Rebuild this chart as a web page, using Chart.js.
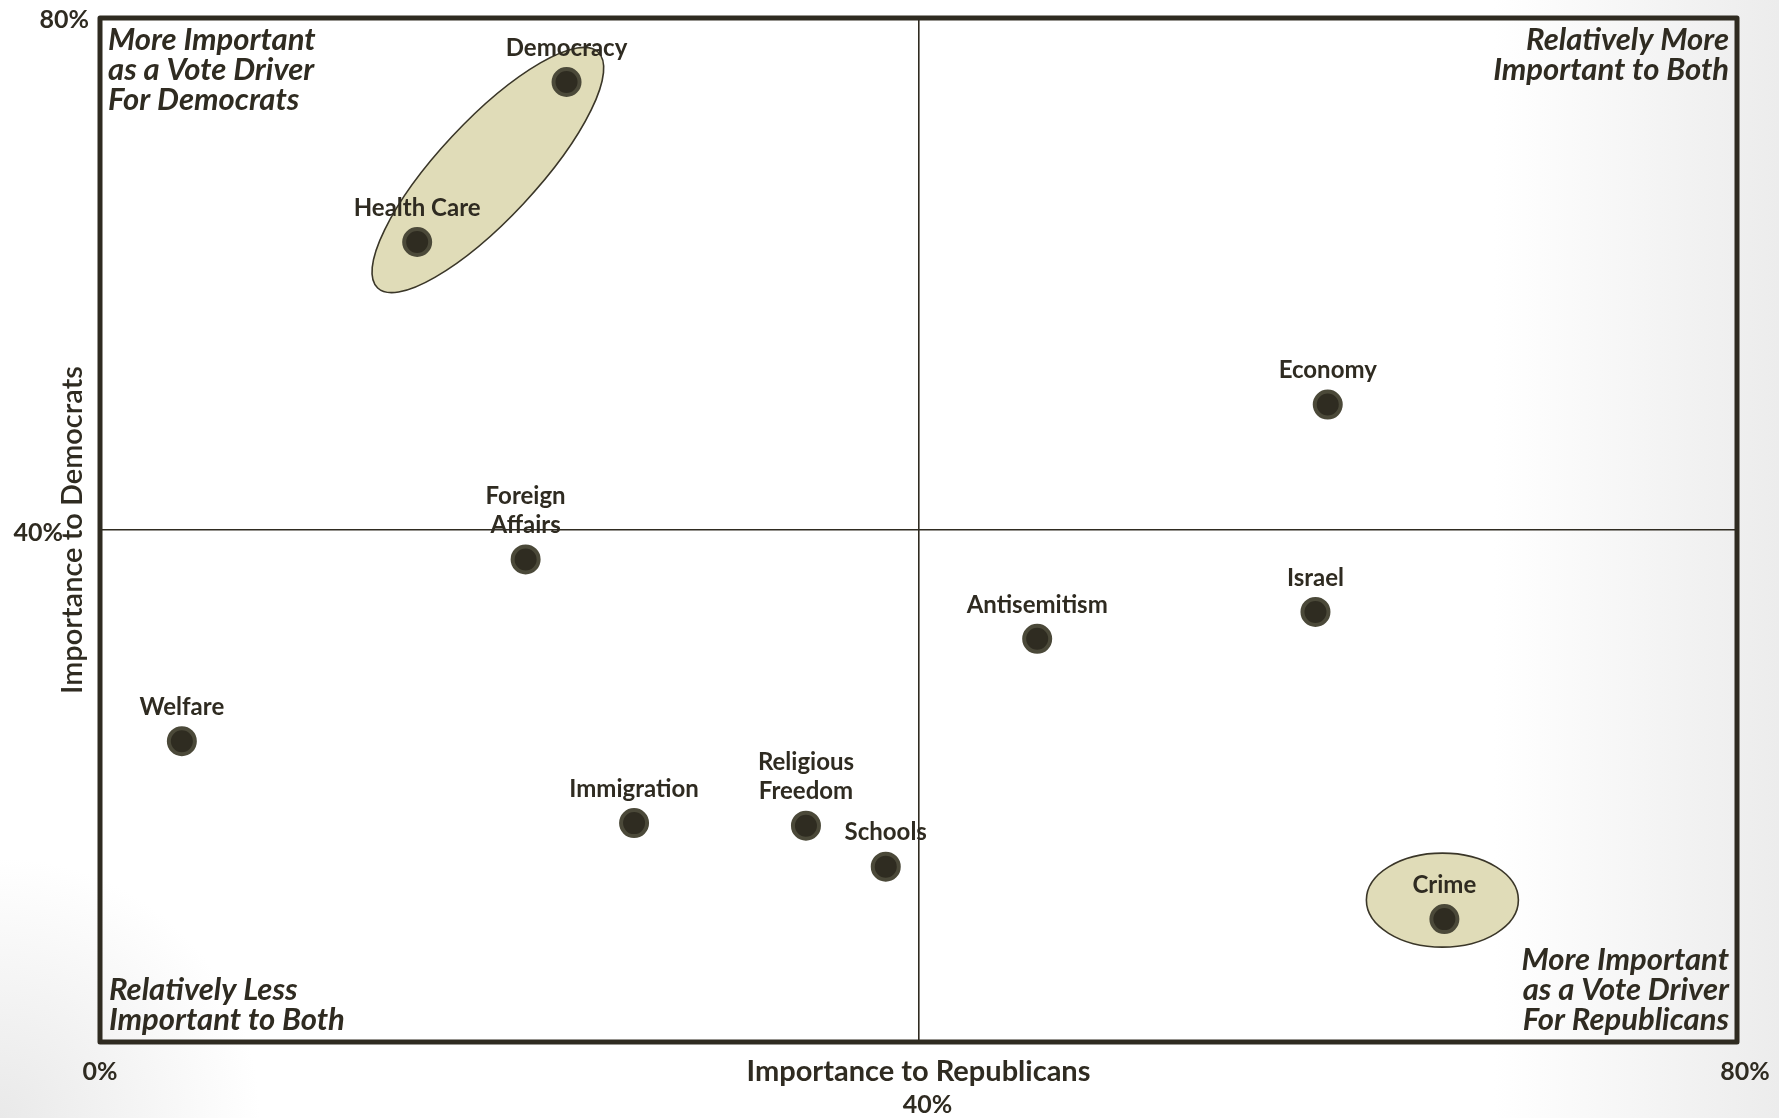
<!DOCTYPE html>
<html>
<head>
<meta charset="utf-8">
<title>Vote drivers</title>
<script src="https://cdn.jsdelivr.net/npm/chart.js@4.4.1/dist/chart.umd.min.js"></script>
<style>
  html, body { margin: 0; padding: 0; }
  body {
    width: 1779px; height: 1118px; overflow: hidden;
    background:
      radial-gradient(circle at 0% 100%, #e9e9e9 0px, rgba(255,255,255,0) 260px),
      linear-gradient(to right, #ffffff 0%, #ffffff 84%, #ececec 100%);
  }
  #wrap { width: 1779px; height: 1118px; position: relative; }
</style>
</head>
<body>
<div id="wrap"><canvas id="myChart"></canvas></div>
<script>
const issues = ["Democracy", "Health Care", "Economy", "Foreign Affairs", "Antisemitism", "Israel",
  "Welfare", "Immigration", "Religious Freedom", "Schools", "Crime"];
const republicans = [22.8, 15.5, 60.0, 20.8, 45.8, 59.4, 4.0, 26.1, 34.5, 38.4, 65.7];
const democrats = [75.0, 62.5, 49.8, 37.7, 31.5, 33.6, 23.5, 17.1, 16.9, 13.7, 9.6];
const twoLineLabels = ["Foreign Affairs", "Religious Freedom"];
const highlighted = [["Democracy", "Health Care"], ["Crime"]];

const xTicks = [0, 40, 80];
const yTicks = [40, 80];
const xTitle = "Importance to Republicans";
const yTitle = "Importance to Democrats";

const noteTopLeft = ["More Important", "as a Vote Driver", "For Democrats"];
const noteTopRight = ["Relatively More", "Important to Both"];
const noteBottomLeft = ["Relatively Less", "Important to Both"];
const noteBottomRight = ["More Important", "as a Vote Driver", "For Republicans"];

const ink = "#2f2b21";
const fontName = "Lato, 'Open Sans', sans-serif";

const ellipsePlugin = {
  id: "ellipses",
  beforeDatasetsDraw(chart) {
    const ctx = chart.ctx;
    const pts = chart.getDatasetMeta(0).data;
    highlighted.forEach((group) => {
      const p = group.map((name) => pts[issues.indexOf(name)]);
      let cx, cy, a, b, ang;
      if (p.length === 1) {
        cx = p[0].x - 2; cy = p[0].y - 19; a = 76; b = 47; ang = 0;
      } else {
        const dx = p[0].x - p[1].x, dy = p[0].y - p[1].y;
        cx = (p[0].x + p[1].x) / 2 - 4; cy = (p[0].y + p[1].y) / 2 + 8;
        a = Math.sqrt(dx * dx + dy * dy) / 2 + 52; b = 49; ang = Math.atan2(dy, dx);
      }
      ctx.save();
      ctx.beginPath();
      ctx.ellipse(cx, cy, a, b, ang, 0, Math.PI * 2);
      ctx.fillStyle = "#e0dcb8";
      ctx.fill();
      ctx.lineWidth = 1.6;
      ctx.strokeStyle = "#3a3628";
      ctx.stroke();
      ctx.restore();
    });
  }
};

const textPlugin = {
  id: "texts",
  afterDraw(chart) {
    const ctx = chart.ctx;
    const area = chart.chartArea;
    const xs = chart.scales.x, ys = chart.scales.y;
    ctx.save();
    ctx.fillStyle = ink;
    ctx.textBaseline = "middle";

    // frame
    ctx.lineWidth = 5;
    ctx.lineJoin = "round";
    ctx.strokeStyle = ink;
    ctx.strokeRect(area.left, area.top, area.right - area.left, area.bottom - area.top);

    // point labels
    ctx.font = "bold 24px " + fontName;
    ctx.textAlign = "center";
    const pts = chart.getDatasetMeta(0).data;
    issues.forEach((name, i) => {
      const lines = twoLineLabels.includes(name) ? name.split(" ") : [name];
      const pt = pts[i];
      lines.forEach((line, j) => {
        ctx.fillText(line, pt.x, pt.y - 34 - (lines.length - 1 - j) * 29);
      });
    });

    // quadrant notes
    ctx.font = "italic bold 31px " + fontName;
    ctx.textAlign = "left";
    noteTopLeft.forEach((t, j) => ctx.fillText(t, area.left + 8, area.top + 22 + j * 30));
    noteBottomLeft.forEach((t, j) => ctx.fillText(t, area.left + 9, area.bottom - 22 - (noteBottomLeft.length - 1 - j) * 30));
    ctx.textAlign = "right";
    noteTopRight.forEach((t, j) => ctx.fillText(t, area.right - 8, area.top + 22 + j * 30));
    noteBottomRight.forEach((t, j) => ctx.fillText(t, area.right - 8, area.bottom - 22 - (noteBottomRight.length - 1 - j) * 30));

    // tick labels
    ctx.font = "bold 25px " + fontName;
    ctx.textAlign = "center";
    xTicks.forEach((v) => {
      const px = xs.getPixelForValue(v);
      if (v === 40) ctx.fillText(v + "%", px + 9, area.bottom + 63);
      else if (v === 80) ctx.fillText(v + "%", px + 8, area.bottom + 30);
      else ctx.fillText(v + "%", px, area.bottom + 30);
    });
    ctx.textAlign = "right";
    yTicks.forEach((v) => {
      const py = ys.getPixelForValue(v);
      if (v === 40) ctx.fillText(v + "%", area.left - 37, py + 3);
      else ctx.fillText(v + "%", area.left - 11, py + 2);
    });

    // axis titles
    ctx.textAlign = "center";
    ctx.font = "bold 29px " + fontName;
    ctx.fillText(xTitle, (area.left + area.right) / 2, area.bottom + 30);
    ctx.save();
    ctx.translate(area.left - 27, (area.top + area.bottom) / 2);
    ctx.rotate(-Math.PI / 2);
    ctx.font = "600 29px " + fontName;
    ctx.fillText(yTitle, 0, 0);
    ctx.restore();

    ctx.restore();
  }
};

const centerLine = (c) => (c.tick && c.tick.value === 40 ? ink : "rgba(0,0,0,0)");

const ctx = document.getElementById("myChart").getContext("2d");
const myChart = new Chart(ctx, {
  type: "scatter",
  data: {
    datasets: [{
      label: "Issues",
      data: issues.map((name, i) => ({ x: republicans[i], y: democrats[i] })),
      backgroundColor: "#2f2c21",
      borderColor: "#4b4939",
      borderWidth: 4,
      pointRadius: 13,
      pointHoverRadius: 13
    }]
  },
  options: {
    responsive: true,
    maintainAspectRatio: false,
    animation: false,
    layout: { padding: { left: 100, right: 42, top: 18, bottom: 76 } },
    plugins: { legend: { display: false }, tooltip: { enabled: false } },
    scales: {
      x: {
        type: "linear", min: 0, max: 80,
        ticks: { stepSize: 40, display: false },
        grid: { color: centerLine, lineWidth: 1.6, drawTicks: false },
        border: { display: false }
      },
      y: {
        type: "linear", min: 0, max: 80,
        ticks: { stepSize: 40, display: false },
        grid: { color: centerLine, lineWidth: 1.6, drawTicks: false },
        border: { display: false }
      }
    }
  },
  plugins: [ellipsePlugin, textPlugin]
});
</script>
</body>
</html>
